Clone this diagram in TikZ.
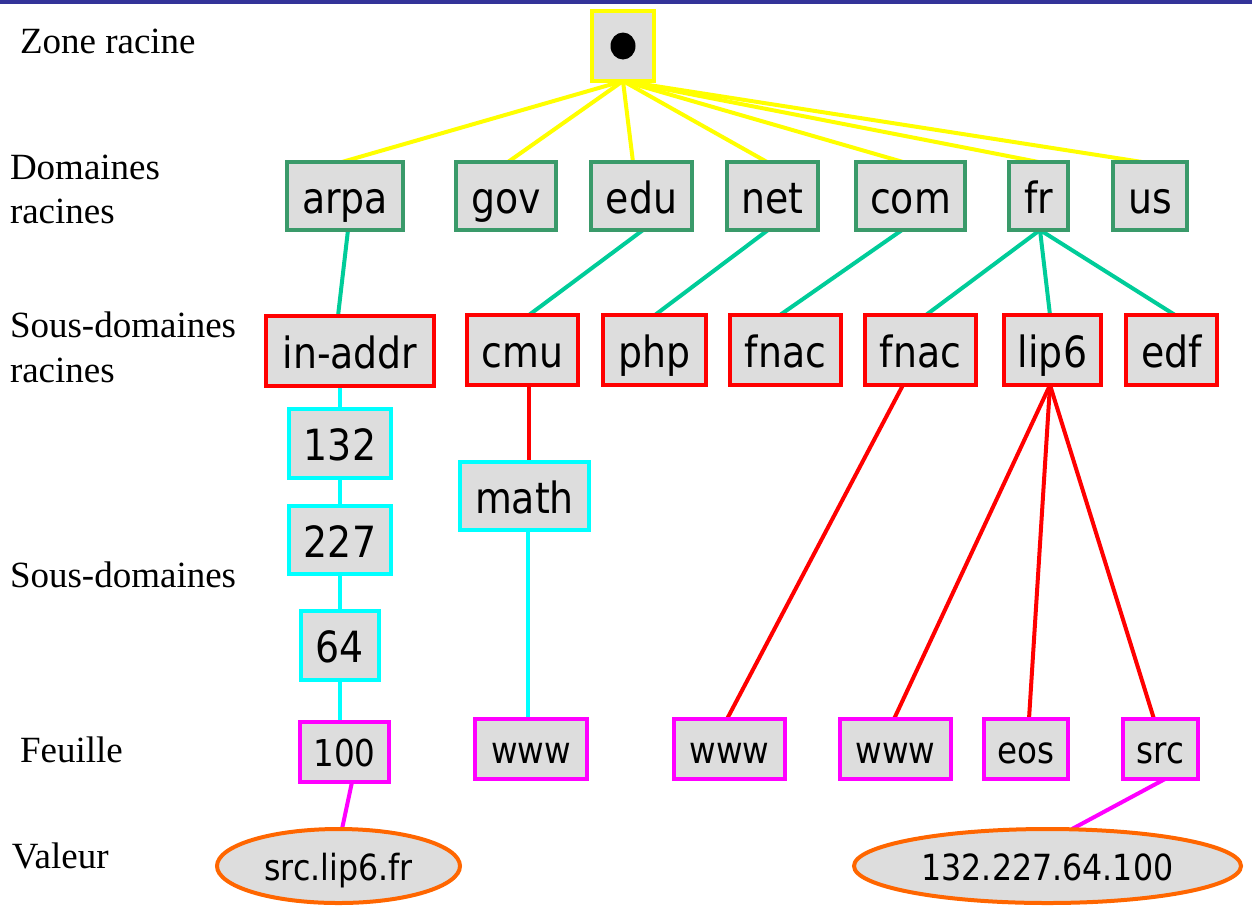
\documentclass[tikz,border=0pt]{standalone}
\usepackage{fontspec}
\setmainfont{Liberation Serif}
\newfontfamily\boxfont[FakeStretch=0.88]{DejaVu Sans}
\usetikzlibrary{shapes.geometric,backgrounds}

\definecolor{barblue}{HTML}{333399}
\definecolor{boxgray}{HTML}{DDDDDD}
\definecolor{rootyellow}{HTML}{FFFF00}
\definecolor{domgreen}{HTML}{3A9A6A}
\definecolor{linkgreen}{HTML}{00CC99}
\definecolor{subred}{HTML}{FF0000}
\definecolor{incyan}{HTML}{00FFFF}
\definecolor{leafmagenta}{HTML}{FF00FF}
\definecolor{valorange}{HTML}{FF6600}

\begin{document}
\begin{tikzpicture}[x=1pt,y=-1pt,
  sz/.style 2 args={minimum width=#1pt, minimum height=#2pt},
  box/.style={rectangle, draw, fill=boxgray, line width=4.5pt, inner sep=0pt,
    outer sep=0pt, text=black, text height=43pt, text depth=8.6pt,
    font=\boxfont\fontsize{43}{47}\selectfont},
  rootbox/.style={box, draw=rootyellow},
  dombox/.style={box, draw=domgreen},
  subbox/.style={box, draw=subred},
  inbox/.style={box, draw=incyan},
  leafbox/.style={box, draw=leafmagenta, text height=37pt, text depth=7.4pt,
    font=\boxfont\fontsize{37}{41}\selectfont},
  valbox/.style={ellipse, draw=valorange, fill=boxgray, line width=4pt,
    inner sep=0pt, outer sep=0pt, text=black, text height=36pt, text depth=7.2pt,
    font=\boxfont\fontsize{36}{40}\selectfont},
  lbl/.style={anchor=base west, inner sep=0pt, outer sep=0pt,
    font=\fontsize{37}{44}\selectfont},
  yline/.style={draw=rootyellow, line width=4pt},
  gline/.style={draw=linkgreen, line width=4pt},
  rline/.style={draw=subred, line width=4pt},
  cline/.style={draw=incyan, line width=4.5pt},
  mline/.style={draw=leafmagenta, line width=4pt}
]
\useasboundingbox (0,0) rectangle (1252,906);

% title bar
\fill[barblue] (0,0) rectangle (1252,4);

% level labels
\node[lbl] (lblZone) at (20,53) {Zone racine};
\node[lbl] (lblDomA) at (10,179) {Domaines};
\node[lbl] (lblDomB) at (10,223) {racines};
\node[lbl] (lblSubA) at (10,337) {Sous-domaines};
\node[lbl] (lblSubB) at (10,382) {racines};
\node[lbl] (lblSous) at (10,587) {Sous-domaines};
\node[lbl] (lblLeaf) at (20,762) {Feuille};
\node[lbl] (lblVal) at (12,868) {Valeur};

% root
\node[rootbox, sz={62}{70}] (root) at (623,46) {};
\fill[black] (root.center) ellipse (12.5pt and 13.5pt);

% top-level domains
\node[dombox, sz={116}{68}] (arpa) at (345,196) {arpa};
\node[dombox, sz={100}{68}] (gov)  at (506,196) {gov};
\node[dombox, sz={101}{68}] (edu)  at (641.5,196) {edu};
\node[dombox, sz={91}{68}]  (net)  at (772.5,196) {net};
\node[dombox, sz={109}{68}] (com)  at (910.5,196) {com};
\node[dombox, sz={59}{68}]  (fr)   at (1038.5,196) {fr};
\node[dombox, sz={74}{68}]  (us)   at (1150,196) {us};

% second-level domains
\node[subbox, sz={168}{70}] (inaddr) at (350,351) {in-addr};
\node[subbox, sz={111}{70}] (cmu)    at (522.5,350) {cmu};
\node[subbox, sz={103}{70}] (php)    at (654.5,350) {php};
\node[subbox, sz={111}{70}] (fnacA)  at (785.5,350) {fnac};
\node[subbox, sz={111}{70}] (fnacB)  at (920.5,350) {fnac};
\node[subbox, sz={97}{70}]  (lip)    at (1052.5,350) {lip6};
\node[subbox, sz={91}{70}]  (edf)    at (1171.5,350) {edf};

% inner sub-domains
\node[inbox, sz={102}{69}] (n132) at (340,443.5) {132};
\node[inbox, sz={102}{68}] (n227) at (340,540) {227};
\node[inbox, sz={78}{69}]  (n64)  at (340,645.5) {64};
\node[inbox, sz={129}{68}] (math) at (524.5,496) {math};

% leaves
\node[leafbox, sz={89}{60}]  (n100) at (344.5,752) {100};
\node[leafbox, sz={112}{60}] (wwwA) at (531,749) {www};
\node[leafbox, sz={111}{60}] (wwwB) at (729.5,749) {www};
\node[leafbox, sz={111}{60}] (wwwC) at (895.5,749) {www};
\node[leafbox, sz={84}{60}]  (eos)  at (1026,749) {eos};
\node[leafbox, sz={75}{60}]  (src)  at (1160.5,749) {src};

% values
\node[valbox, sz={243}{74}] (valA) at (338.5,866) {src.lip6.fr};
\node[valbox, sz={387}{74}] (valB) at (1047.5,866) {132.227.64.100};

\begin{scope}[on background layer]
  % root to top-level domains
  \draw[yline] (root.south) -- ([xshift=-3pt]arpa.north);
  \draw[yline] (root.south) -- ([xshift=2pt]gov.north);
  \draw[yline] (root.south) -- ([xshift=-8.5pt]edu.north);
  \draw[yline] (root.south) -- ([xshift=-5.5pt]net.north);
  \draw[yline] (root.south) -- ([xshift=-7.5pt]com.north);
  \draw[yline] (root.south) -- (fr.north);
  \draw[yline] (root.south) -- ([xshift=-8pt]us.north);
  % top-level to second-level
  \draw[gline] ([xshift=3pt]arpa.south) -- ([xshift=-12pt]inaddr.north);
  \draw[gline] ([xshift=1.5pt]edu.south) -- ([xshift=6.5pt]cmu.north);
  \draw[gline] ([xshift=-4.5pt]net.south) -- ([xshift=0.5pt]php.north);
  \draw[gline] ([xshift=-8.5pt]com.south) -- ([xshift=-5.5pt]fnacA.north);
  \draw[gline] ([xshift=1.5pt]fr.south) -- ([xshift=5.5pt]fnacB.north);
  \draw[gline] ([xshift=1.5pt]fr.south) -- ([xshift=-2.5pt]lip.north);
  \draw[gline] ([xshift=1.5pt]fr.south) -- ([xshift=3.5pt]edf.north);
  % reverse-lookup column
  \draw[cline] ([xshift=-10pt]inaddr.south) -- (n132.north);
  \draw[cline] (n132.south) -- (n227.north);
  \draw[cline] (n227.south) -- (n64.north);
  \draw[cline] (n64.south) -- ([xshift=-4.5pt]n100.north);
  % cmu branch
  \draw[rline] ([xshift=6.5pt]cmu.south) -- ([xshift=4.5pt]math.north);
  \draw[cline] ([xshift=3.5pt]math.south) -- ([xshift=-3pt]wwwA.north);
  % fr branches
  \draw[rline] ([xshift=-17.5pt]fnacB.south) -- ([xshift=-2.5pt]wwwB.north);
  \draw[rline] ([xshift=-2.5pt]lip.south) -- ([xshift=-1.5pt]wwwC.north);
  \draw[rline] ([xshift=-2.5pt]lip.south) -- ([xshift=3pt]eos.north);
  \draw[rline] ([xshift=-2.5pt]lip.south) -- ([xshift=-6.5pt]src.north);
  % leaves to values
  \draw[mline] ([xshift=7.5pt]n100.south) -- ([xshift=3.5pt]valA.north);
  \draw[mline] ([xshift=4.5pt]src.south) -- ([xshift=24.5pt]valB.north);
\end{scope}
\end{tikzpicture}
\end{document}
